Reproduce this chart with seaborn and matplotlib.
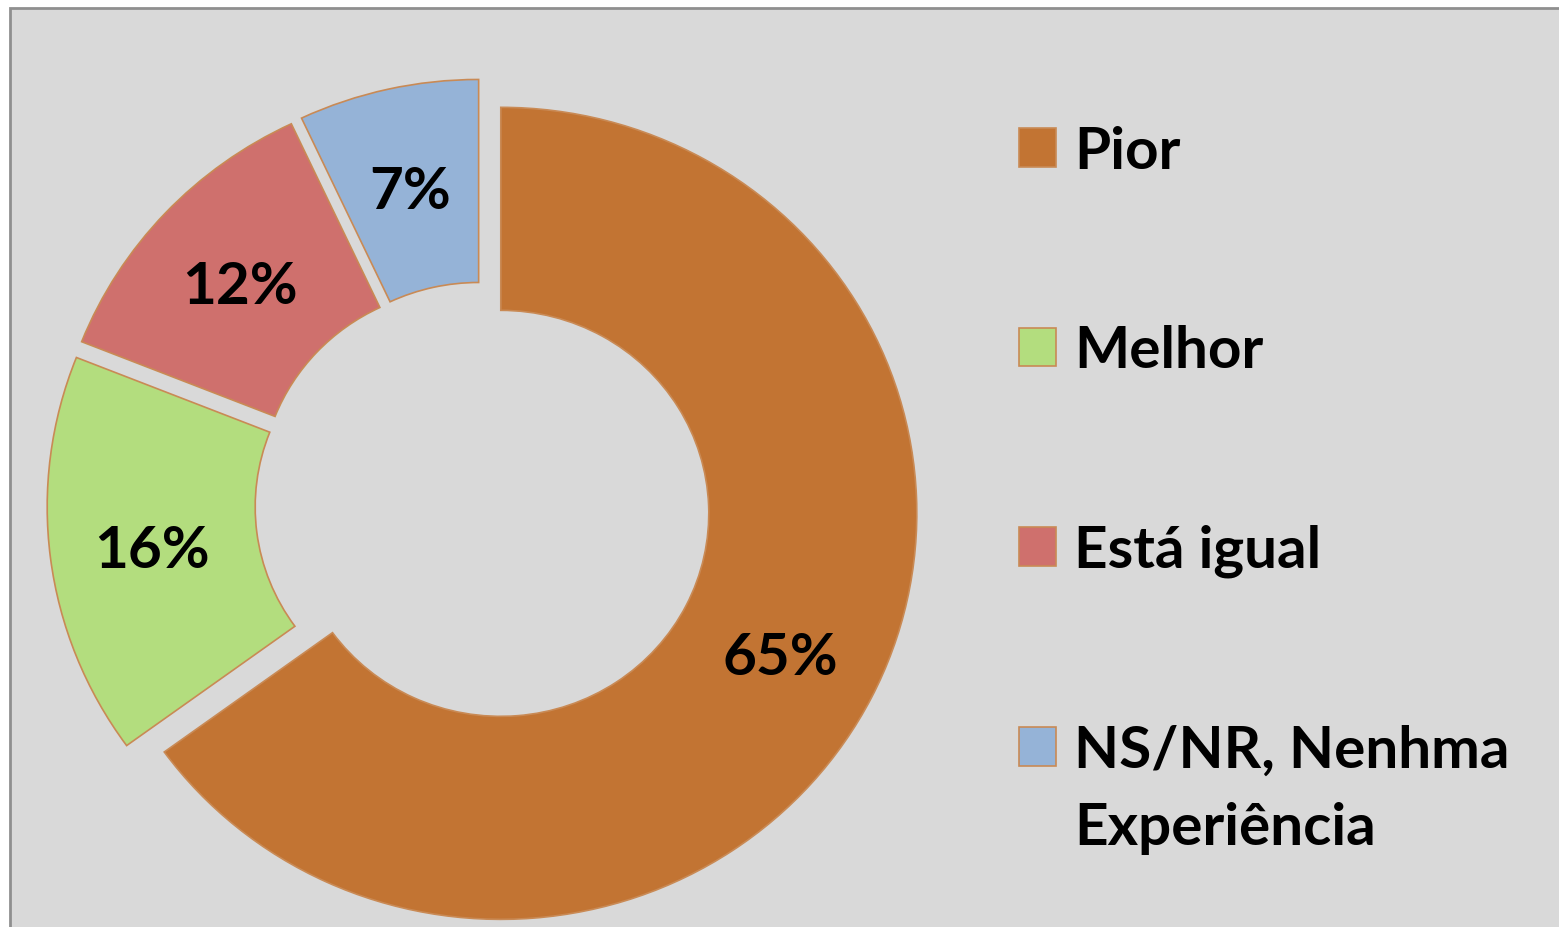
import matplotlib
matplotlib.use("Agg")
import matplotlib.pyplot as plt
from matplotlib.patches import Rectangle
import seaborn as sns

# dados do gráfico
categorias = ['Pior', 'Melhor', 'Está igual', 'NS/NR, Nenhma']
percentagens = [65, 16, 12, 7]
segunda_linha = 'Experiência'
cores = ['#c27433', '#b3dd7e', '#cf706d', '#95b3d7']

sns.set_theme(style='white')
plt.rcParams['font.family'] = ['Lato', 'DejaVu Sans']

fig = plt.figure(figsize=(15.59, 9.28), dpi=100, facecolor='white')
ax = fig.add_axes([0, 0, 1, 1])

# fundo cinzento com moldura
ax.add_patch(Rectangle((10 / 1559, -0.05), 1.1, (928 - 9) / 928 + 0.05,
                       transform=ax.transAxes, facecolor='#d9d9d9',
                       edgecolor='#8f8f8f', linewidth=2, clip_on=False, zorder=0))

wedges, textos, pct = ax.pie(percentagens, colors=sns.color_palette(cores),
                             startangle=90, counterclock=False,
                             explode=[0.048] * 4, autopct='%1.0f%%',
                             pctdistance=0.755,
                             wedgeprops=dict(width=0.5, edgecolor='#c98a55', linewidth=1.2),
                             textprops=dict(fontsize=42, fontweight='bold', color='black'))
for t in pct:
    t.set_va('center_baseline')

ax.set_aspect('auto')
ax.set_xlim(-483 / 416, (1559 - 483) / 416)
ax.set_ylim((505.5 - 928) / 406, 505.5 / 406)
ax.axis('off')

leg = ax.legend(wedges, categorias, loc='upper left',
                bbox_to_anchor=(1019 / 1559, 1 - 126 / 928),
                bbox_transform=fig.transFigure, frameon=False,
                prop=dict(family='Lato', weight='bold', size=42), labelcolor='black',
                handlelength=0.64, handleheight=0.64, handletextpad=0.3,
                labelspacing=2.51, borderpad=0, borderaxespad=0)

ax.annotate(segunda_linha, xy=(0, 0), xycoords=leg.get_texts()[3],
            xytext=(0, -77), textcoords='offset pixels', va='bottom', ha='left',
            fontsize=42, fontweight='bold', color='black', zorder=10)

plt.savefig('out.png', dpi=100, facecolor='white')
